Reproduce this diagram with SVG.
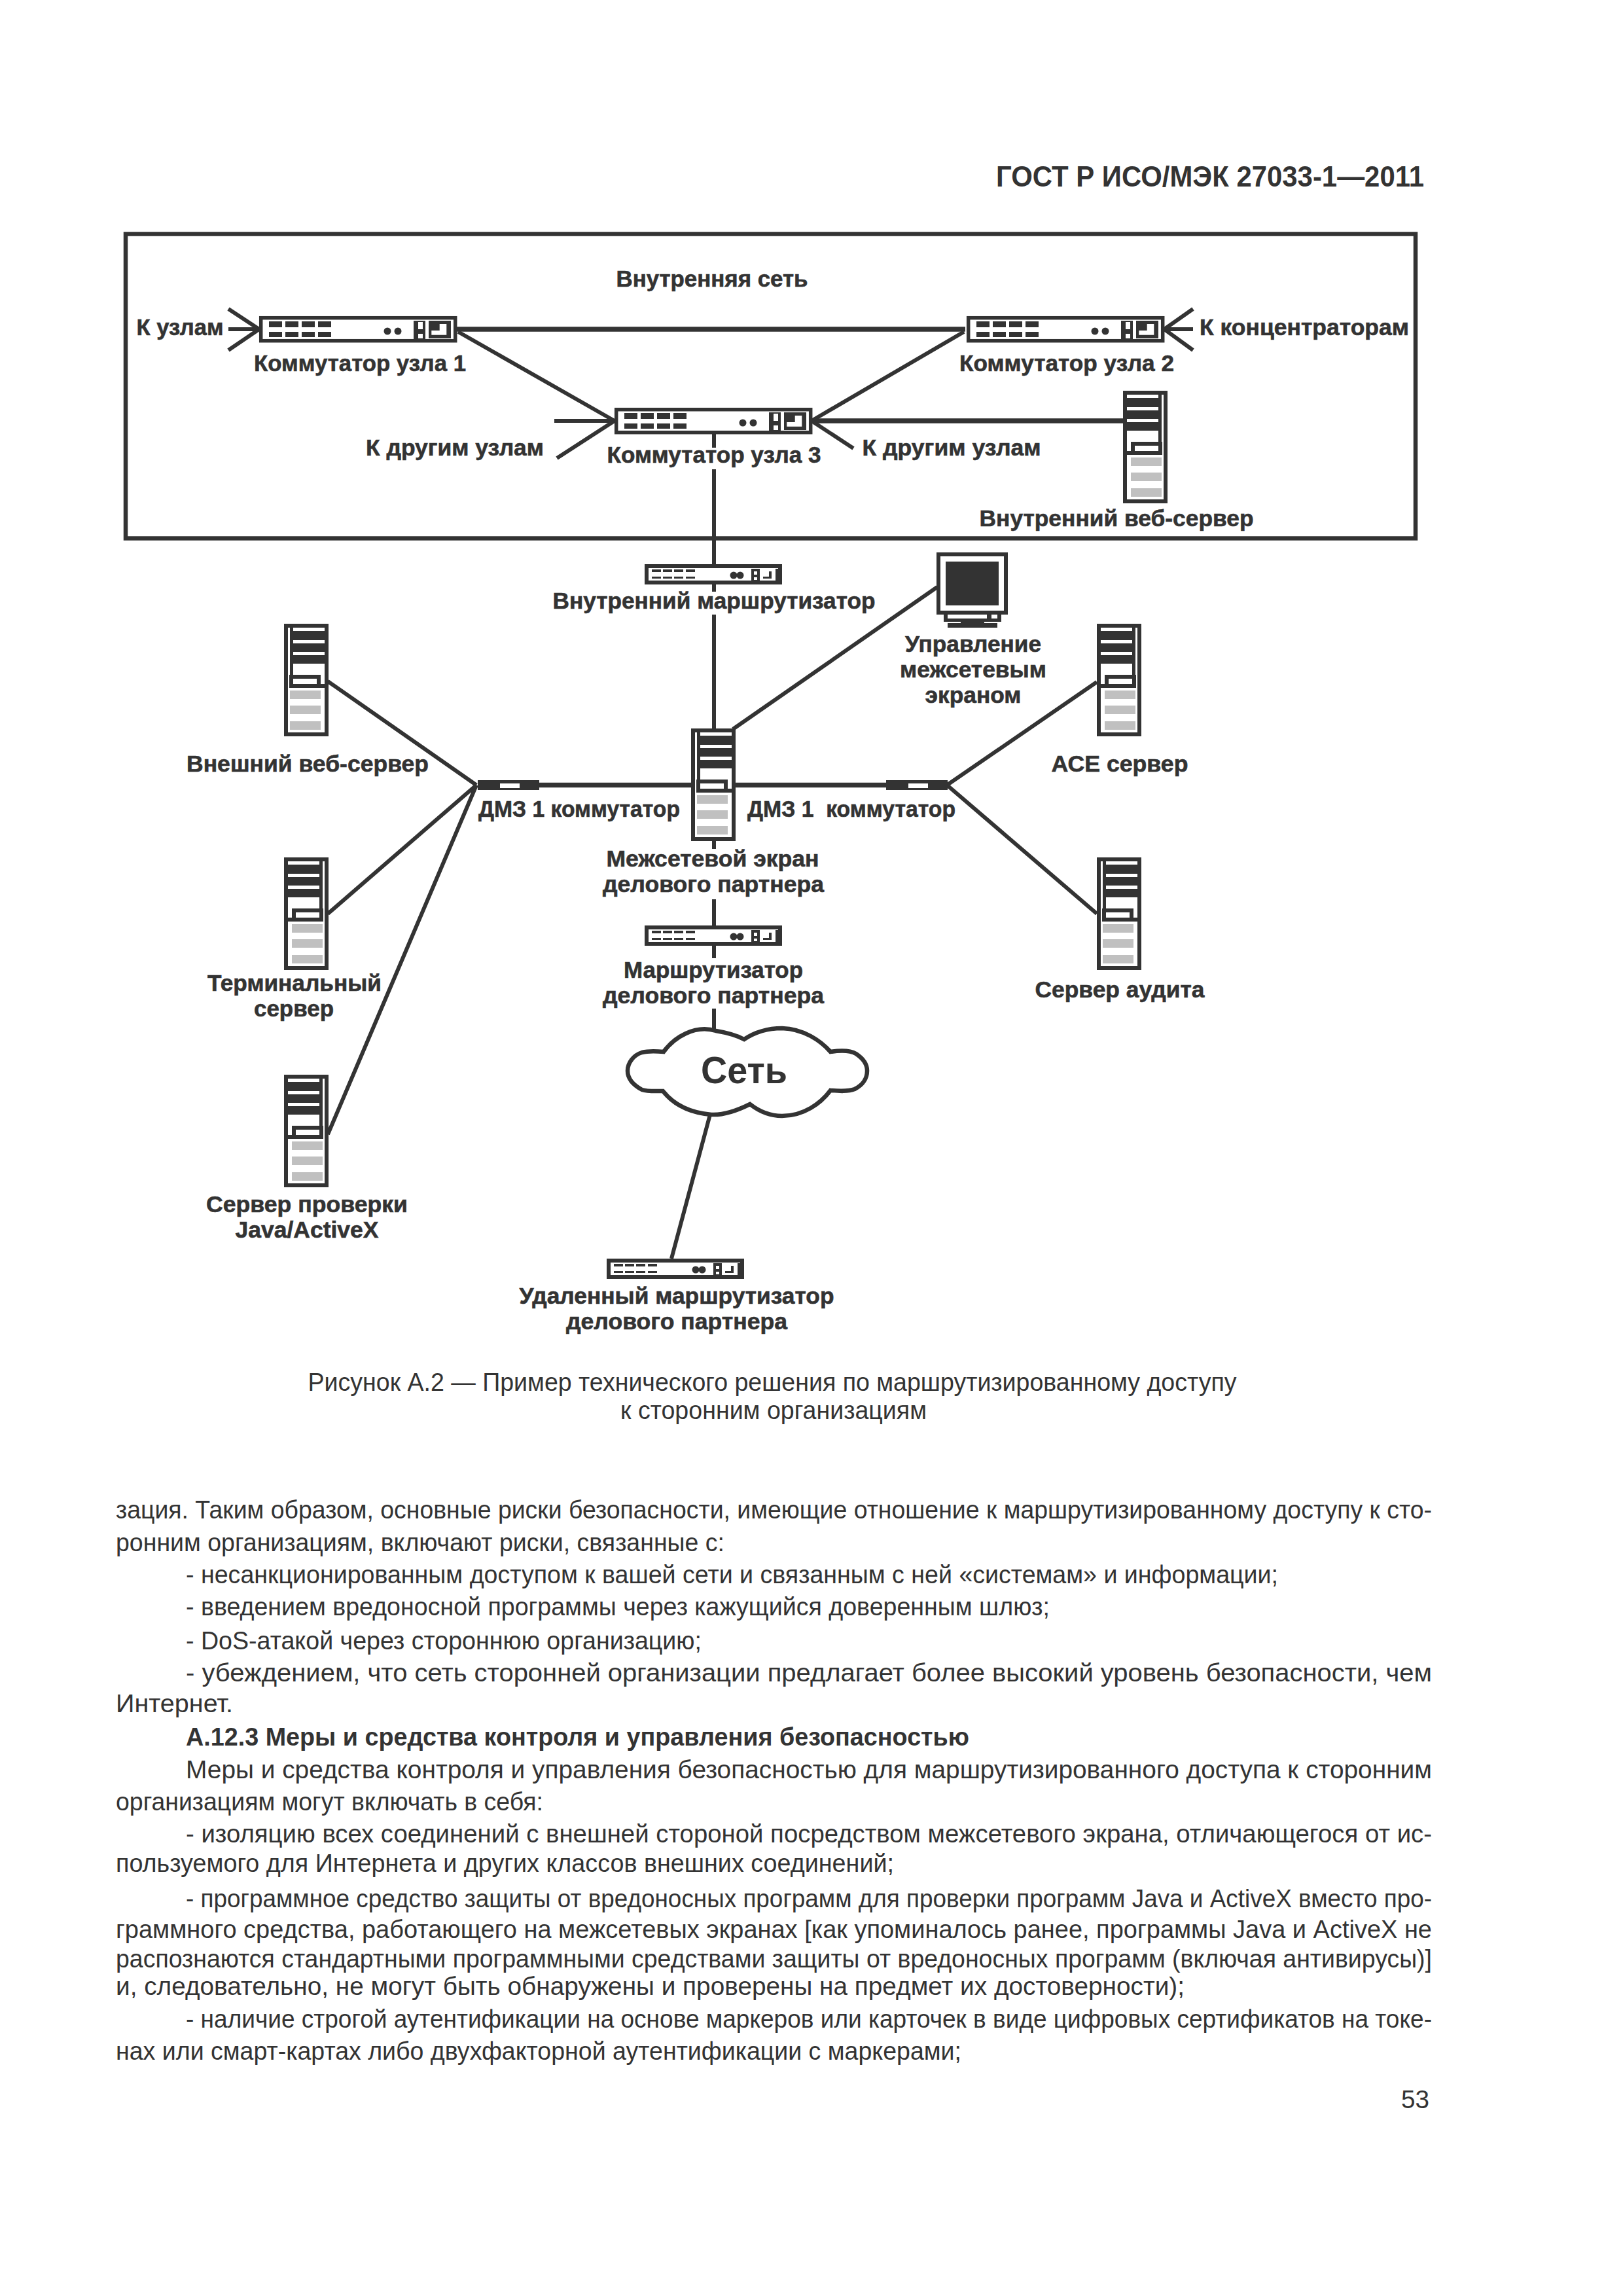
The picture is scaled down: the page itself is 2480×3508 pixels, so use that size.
<svg xmlns="http://www.w3.org/2000/svg" xmlns:xlink="http://www.w3.org/1999/xlink" width="2480" height="3508" viewBox="0 0 2480 3508">
<style>
text{font-family:"Liberation Sans",Arial,sans-serif;fill:#333}
.l{font-size:35px;font-weight:700;text-anchor:middle;stroke:#333;stroke-width:.6px}
.b{font-size:38px}
.bb{font-size:38px;font-weight:700}
.c{font-size:38px;text-anchor:middle}
.d{fill:#333}
.w{fill:#fff}
.g{fill:#c0c0c0}
.k{fill:none;stroke:#333}
.s5{stroke-width:6}
.s7{stroke-width:7.500}
</style>
<defs>
<g id="srv">
<rect class="w" x="3" y="3" width="62" height="166" style="stroke:#333;stroke-width:6"/>
<path class="d" d="M9 6H14V78H9ZM14 11H63V25H14ZM14 30H63V43H14ZM14 48H63V61H14Z"/>
<path class="d" d="M8 78H56V92H68V98H8ZM14 84V92H50V84Z" fill-rule="evenodd"/>
<rect class="g" x="9" y="102" width="47" height="13"/>
<rect class="g" x="9" y="125" width="47" height="13"/>
<rect class="g" x="9" y="149" width="47" height="13"/>
</g>
<g id="sw">
<rect class="w" x="2.7" y="2.7" width="297" height="35" style="stroke:#333;stroke-width:5.5"/>
<path class="d" d="M15 8h20v9H15ZM40 8h20v9H40ZM65 8h20v9H65ZM90 8h20v9H90ZM15 24h20v8H15ZM40 24h20v8H40ZM65 24h20v8H65ZM90 24h20v8H90Z"/>
<circle class="d" cx="196" cy="23" r="5.5"/><circle class="d" cx="212" cy="23" r="5.5"/>
<path class="d" d="M236 7H254V37H236ZM243 9V20H250V9ZM243 27V34H250V27Z" fill-rule="evenodd"/>
<path class="d" d="M259 7H293V34H259ZM275.7 12V22H263.3V28.7H286.3V12Z" fill-rule="evenodd"/>
</g>
<g id="rt">
<rect class="w" x="3" y="3" width="204" height="25" style="stroke:#333;stroke-width:6"/>
<path class="d" d="M11 8h14v4H11ZM28 8h14v4H28ZM45 8h14v4H45ZM63 8h14v4H63ZM11 19h14v3H11ZM28 19h14v3H28ZM45 19h14v3H45ZM63 19h14v3H63Z"/>
<circle class="d" cx="136" cy="17" r="5.5"/><circle class="d" cx="146" cy="17" r="5.5"/>
<path class="d" d="M163 7H176V28H163ZM167 11V16H172V11ZM167 20V24H172V20Z" fill-rule="evenodd"/>
<path class="d" d="M181 19H190V11H194V22H181ZM200 7H204V25H200Z"/>
</g>
<g id="dmz">
<rect class="d" x="0" y="0" width="94" height="15"/>
<rect class="w" x="34" y="5" width="30" height="7"/>
</g>
</defs>
<rect x="0" y="0" width="2480" height="3508" fill="#fff"/>

<g id="header"><text x="1522" y="285" font-size="44" font-weight="700" textLength="654" lengthAdjust="spacingAndGlyphs">ГОСТ Р ИСО/МЭК 27033-1—2011</text></g>

<g id="connectors">
<g class="k s7">
<path d="M698 503H1475"/>
<path d="M1240 643H1716"/>
<path d="M822 1199.5H1056"/>
<path d="M1123 1199.5H1354"/>
</g>
<g class="k s5">
<path d="M349 472L396 503M349 503H396M349 535L396 503"/>
<path d="M1823 472L1779 503M1823 503H1779M1823 535L1779 503"/>
<path d="M700 507L939 643"/>
<path d="M1473 507L1240 643"/>
<path d="M847 643H939M851 700L939 643"/>
<path d="M1304 685L1240 643"/>
<path d="M1091 663V684M1091 717V862M1091 892V904M1091 939V1113"/>
<path d="M1091 1284V1297M1091 1374V1414M1091 1444V1464M1091 1541V1574"/>
<path d="M1120 1114L1432 897"/>
<path d="M501 1041L728 1199.5M501 1396L728 1199.5M501 1733L728 1199.5"/>
<path d="M1676 1042L1447 1199.5M1676 1396L1447 1199.5"/>
<path d="M1085 1703L1026 1923"/>
</g>
</g>

<g id="internal-network">
<rect class="k" x="192" y="357.500" width="1971" height="465" style="stroke-width:6.500"/>
<text class="l" x="1088" y="438" textLength="293" lengthAdjust="spacingAndGlyphs">Внутренняя сеть</text>
</g>

<g id="switch-1"><use xlink:href="#sw" x="396" y="483"/>
<text class="l" x="550" y="567" textLength="324" lengthAdjust="spacingAndGlyphs">Коммутатор узла 1</text>
<text class="l" x="275" y="512" textLength="133" lengthAdjust="spacingAndGlyphs">К узлам</text></g>
<g id="switch-2"><use xlink:href="#sw" x="1477" y="483"/>
<text class="l" x="1630" y="567" textLength="328" lengthAdjust="spacingAndGlyphs">Коммутатор узла 2</text>
<text class="l" x="1993" y="512" textLength="320" lengthAdjust="spacingAndGlyphs">К концентраторам</text></g>
<g id="switch-3"><use xlink:href="#sw" x="939" y="623"/>
<text class="l" x="1091" y="707" textLength="327" lengthAdjust="spacingAndGlyphs">Коммутатор узла 3</text>
<text class="l" x="695" y="696" textLength="272" lengthAdjust="spacingAndGlyphs">К другим узлам</text>
<text class="l" x="1454" y="696" textLength="273" lengthAdjust="spacingAndGlyphs">К другим узлам</text></g>

<g id="internal-web-server"><use xlink:href="#srv" transform="translate(1784 597) scale(-1 1)"/>
<text class="l" x="1706" y="804" textLength="419" lengthAdjust="spacingAndGlyphs">Внутренний веб-сервер</text></g>

<g id="internal-router"><use xlink:href="#rt" x="985" y="862"/>
<text class="l" x="1091" y="930" textLength="493" lengthAdjust="spacingAndGlyphs">Внутренний маршрутизатор</text></g>

<g id="firewall-mgmt">
<path class="d" d="M1431 844H1540V939H1431ZM1437 850V933H1534V850Z" fill-rule="evenodd"/>
<rect class="d" x="1445" y="858" width="81" height="67"/>
<path class="d" d="M1442 939H1530V950H1442ZM1448 939V945H1508V939ZM1515 939V945H1524V939Z" fill-rule="evenodd"/>
<path class="d" d="M1468 950H1504V952H1524V959H1448V952H1468Z"/>
<text class="l" x="1487" y="996" textLength="208" lengthAdjust="spacingAndGlyphs">Управление</text>
<text class="l" x="1487" y="1035" textLength="224" lengthAdjust="spacingAndGlyphs">межсетевым</text>
<text class="l" x="1487" y="1074" textLength="147" lengthAdjust="spacingAndGlyphs">экраном</text>
</g>

<g id="external-web-server"><use xlink:href="#srv" x="434" y="953"/>
<text class="l" x="470" y="1179" textLength="370" lengthAdjust="spacingAndGlyphs">Внешний веб-сервер</text></g>
<g id="ace-server"><use xlink:href="#srv" transform="translate(1744 953) scale(-1 1)"/>
<text class="l" x="1711" y="1179" textLength="209" lengthAdjust="spacingAndGlyphs">АСЕ сервер</text></g>

<g id="dmz-left"><use xlink:href="#dmz" x="730" y="1192"/>
<text class="l" x="885" y="1248" textLength="308" lengthAdjust="spacingAndGlyphs">ДМЗ 1 коммутатор</text></g>
<g id="dmz-right"><use xlink:href="#dmz" x="1354" y="1192"/>
<text class="l" x="1301" y="1248" textLength="318" lengthAdjust="spacingAndGlyphs" xml:space="preserve">ДМЗ 1  коммутатор</text></g>

<g id="firewall"><use xlink:href="#srv" x="1056" y="1113"/>
<text class="l" x="1089" y="1324" textLength="325" lengthAdjust="spacingAndGlyphs">Межсетевой экран</text>
<text class="l" x="1090" y="1363" textLength="338" lengthAdjust="spacingAndGlyphs">делового партнера</text></g>

<g id="terminal-server"><use xlink:href="#srv" transform="translate(502 1310) scale(-1 1)"/>
<text class="l" x="450" y="1514" textLength="266" lengthAdjust="spacingAndGlyphs">Терминальный</text>
<text class="l" x="449" y="1553" textLength="122" lengthAdjust="spacingAndGlyphs">сервер</text></g>
<g id="audit-server"><use xlink:href="#srv" x="1676" y="1310"/>
<text class="l" x="1711" y="1524" textLength="259" lengthAdjust="spacingAndGlyphs">Сервер аудита</text></g>

<g id="partner-router"><use xlink:href="#rt" x="985" y="1414"/>
<text class="l" x="1090" y="1494" textLength="274" lengthAdjust="spacingAndGlyphs">Маршрутизатор</text>
<text class="l" x="1090" y="1533" textLength="338" lengthAdjust="spacingAndGlyphs">делового партнера</text></g>

<g id="cloud">
<path d="M1014 1607C1030 1585 1062 1565 1094 1575C1112 1578 1126 1582 1137 1588C1152 1578 1172 1571 1195 1571C1228 1572 1254 1590 1269 1607C1282 1605 1298 1604 1308 1610C1320 1618 1325 1626 1325 1636C1325 1648 1318 1658 1306 1664C1296 1668 1282 1667 1269 1666C1254 1686 1228 1705 1195 1705C1176 1705 1160 1698 1146 1687C1128 1696 1106 1704 1087 1703C1052 1700 1028 1686 1013 1667C1002 1667 990 1668 981 1665C968 1658 959 1648 959 1636C959 1624 968 1612 981 1608C992 1605 1004 1606 1014 1607Z" fill="#fff" stroke="#333" stroke-width="6.500"/>
<text x="1137" y="1655" font-size="58" font-weight="700" text-anchor="middle" textLength="132" lengthAdjust="spacingAndGlyphs">Сеть</text>
</g>

<g id="java-server"><use xlink:href="#srv" transform="translate(502 1642) scale(-1 1)"/>
<text class="l" x="469" y="1852" textLength="308" lengthAdjust="spacingAndGlyphs">Сервер проверки</text>
<text class="l" x="469" y="1891" textLength="219" lengthAdjust="spacingAndGlyphs">Java/ActiveX</text></g>

<g id="remote-router"><use xlink:href="#rt" x="927" y="1923"/>
<text class="l" x="1034" y="1992" textLength="481" lengthAdjust="spacingAndGlyphs">Удаленный маршрутизатор</text>
<text class="l" x="1034" y="2031" textLength="338" lengthAdjust="spacingAndGlyphs">делового партнера</text></g>

<g id="caption">
<text class="c" x="1180" y="2125" textLength="1419" lengthAdjust="spacingAndGlyphs">Рисунок А.2 — Пример технического решения по маршрутизированному доступу</text>
<text class="c" x="1182" y="2168" textLength="468" lengthAdjust="spacingAndGlyphs">к сторонним организациям</text>
</g>

<g id="body">
<text class="b" x="177" y="2320" textLength="2011" lengthAdjust="spacingAndGlyphs">зация. Таким образом, основные риски безопасности, имеющие отношение к маршрутизированному доступу к сто-</text>
<text class="b" x="177" y="2370" textLength="930" lengthAdjust="spacingAndGlyphs">ронним организациям, включают риски, связанные с:</text>
<text class="b" x="284" y="2419" textLength="1669" lengthAdjust="spacingAndGlyphs">- несанкционированным доступом к вашей сети и связанным с ней «системам» и информации;</text>
<text class="b" x="284" y="2468" textLength="1320" lengthAdjust="spacingAndGlyphs">- введением вредоносной программы через кажущийся доверенным шлюз;</text>
<text class="b" x="284" y="2520" textLength="788" lengthAdjust="spacingAndGlyphs">- DoS-атакой через стороннюю организацию;</text>
<text class="b" x="284" y="2569" textLength="1904" lengthAdjust="spacingAndGlyphs">- убеждением, что сеть сторонней организации предлагает более высокий уровень безопасности, чем</text>
<text class="b" x="177" y="2616" textLength="179" lengthAdjust="spacingAndGlyphs">Интернет.</text>
<text class="bb" x="284" y="2667" textLength="1197" lengthAdjust="spacingAndGlyphs">А.12.3 Меры и средства контроля и управления безопасностью</text>
<text class="b" x="284" y="2717" textLength="1904" lengthAdjust="spacingAndGlyphs">Меры и средства контроля и управления безопасностью для маршрутизированного доступа к сторонним</text>
<text class="b" x="177" y="2766" textLength="653" lengthAdjust="spacingAndGlyphs">организациям могут включать в себя:</text>
<text class="b" x="284" y="2815" textLength="1904" lengthAdjust="spacingAndGlyphs">- изоляцию всех соединений с внешней стороной посредством межсетевого экрана, отличающегося от ис-</text>
<text class="b" x="177" y="2860" textLength="1189" lengthAdjust="spacingAndGlyphs">пользуемого для Интернета и других классов внешних соединений;</text>
<text class="b" x="284" y="2914" textLength="1904" lengthAdjust="spacingAndGlyphs">- программное средство защиты от вредоносных программ для проверки программ Java и ActiveX вместо про-</text>
<text class="b" x="177" y="2961" textLength="2011" lengthAdjust="spacingAndGlyphs">граммного средства, работающего на межсетевых экранах [как упоминалось ранее, программы Java и ActiveX не</text>
<text class="b" x="177" y="3006" textLength="2011" lengthAdjust="spacingAndGlyphs">распознаются стандартными программными средствами защиты от вредоносных программ (включая антивирусы)]</text>
<text class="b" x="177" y="3048" textLength="1633" lengthAdjust="spacingAndGlyphs">и, следовательно, не могут быть обнаружены и проверены на предмет их достоверности);</text>
<text class="b" x="284" y="3098" textLength="1904" lengthAdjust="spacingAndGlyphs">- наличие строгой аутентификации на основе маркеров или карточек в виде цифровых сертификатов на токе-</text>
<text class="b" x="177" y="3147" textLength="1292" lengthAdjust="spacingAndGlyphs">нах или смарт-картах либо двухфакторной аутентификации с маркерами;</text>
</g>

<g id="page-number"><text x="2141" y="3221" font-size="38" textLength="43" lengthAdjust="spacingAndGlyphs">53</text></g>
</svg>
